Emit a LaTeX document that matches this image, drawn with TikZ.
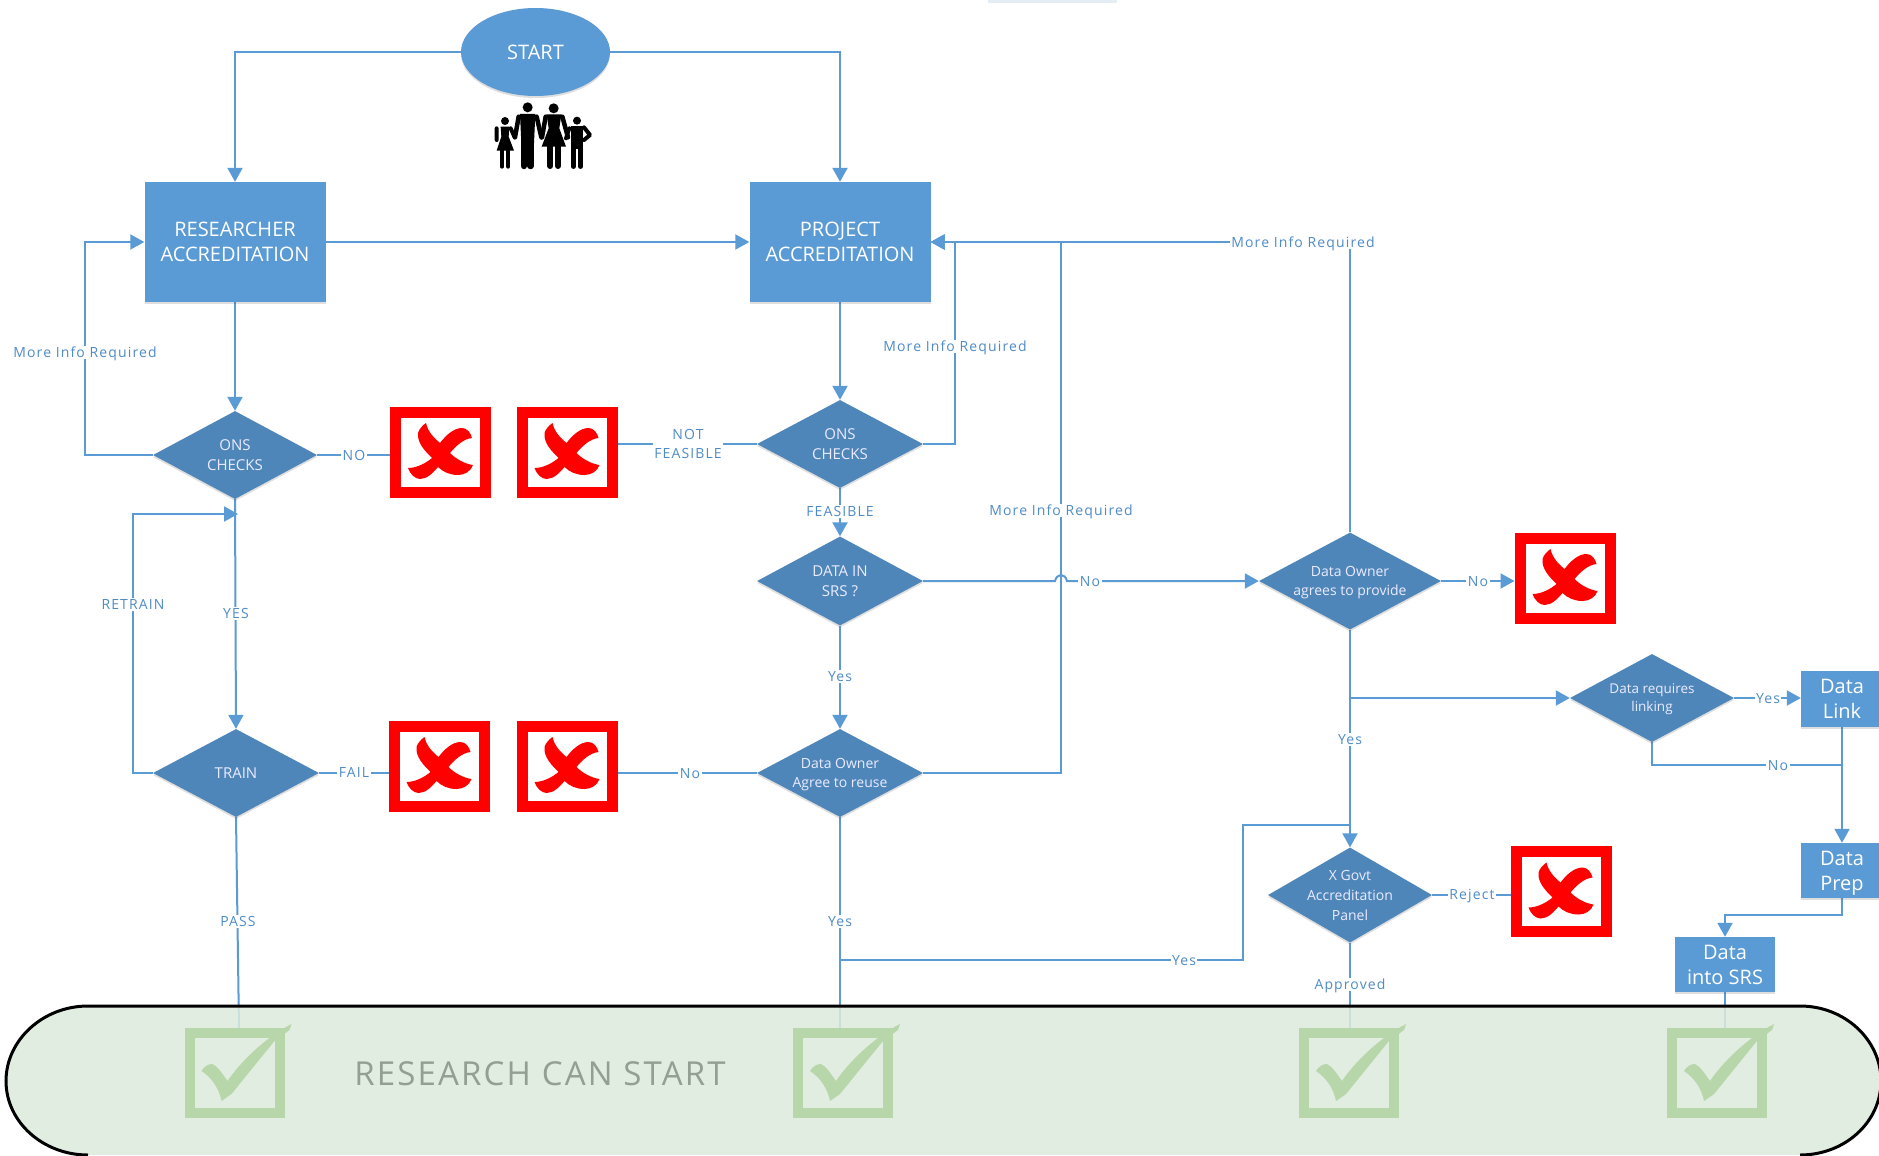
\documentclass[tikz,border=0pt]{standalone}
\usepackage{fontspec}
\setmainfont{Open Sans}
\newfontfamily\spacedfont[LetterSpace=8]{Open Sans}
\newfontfamily\bandfont[LetterSpace=6.5]{Open Sans}
\usetikzlibrary{shapes.geometric,arrows.meta,shadows}
\definecolor{boxblue}{HTML}{5B9BD5}
\definecolor{diablue}{HTML}{4F86BA}
\definecolor{linkblue}{HTML}{5B9BD5}
\definecolor{lblblue}{HTML}{4F8CC6}
\definecolor{tickgreen}{HTML}{B7D6AA}
\definecolor{bandgreen}{HTML}{DDEBDD}
\definecolor{bandtext}{HTML}{939F93}
\definecolor{topbar}{HTML}{E4ECF4}
\pgfdeclarelayer{connlayer}
\pgfdeclarelayer{bandlayer}
\pgfsetlayers{connlayer,bandlayer,main}
\tikzset{
  softshadow/.style={drop shadow={shadow xshift=0pt,shadow yshift=-2pt,opacity=.18,fill=black!70}},
  procbox/.style={rectangle,fill=boxblue,text=white,align=center,inner sep=0pt,text depth=0pt,softshadow,font=\fontsize{20}{25}\selectfont},
  decision/.style={diamond,aspect=1.87,fill=diablue,text=white!92!blue,align=center,inner sep=-25pt,text depth=0pt,softshadow,font=\fontsize{14}{19}\selectfont},
  startoval/.style={ellipse,fill=boxblue,text=white,inner sep=0pt,minimum width=149pt,minimum height=88pt,softshadow,font=\fontsize{20}{25}\selectfont},
  crossbox/.style={rectangle,draw=red,fill=white,line width=11pt,inner sep=0pt,minimum width=90pt,minimum height=80pt},
  tickbox/.style={rectangle,draw=tickgreen,line width=10pt,inner sep=0pt,minimum width=90pt,minimum height=80pt},
  conn/.style={draw=linkblue,line width=2pt},
  connarrow/.style={conn,-{Triangle[width=15pt,length=14pt]}},
  lbl/.style={fill=white,text=lblblue,inner sep=1.5pt,align=center,text depth=0pt,yshift=-.5pt,font=\spacedfont\fontsize{14}{19}\selectfont},
}
\newcommand\crossmark[3]{%
  \node[crossbox] (#1) at (#2,#3) {};
  \fill[red,shift={(#2-50.5,#3-45)}] (36,16) .. controls (38,25) and (44,31) .. (50,36) .. controls (56,28) and (64,21) .. (72,21) .. controls (77,21) and (81,26) .. (82,31) .. controls (73,32) and (66,39) .. (60,46) .. controls (66,52) and (75,57) .. (83,58) .. controls (81,64) and (75,68) .. (68,68) .. controls (60,68) and (53,65) .. (48,60) .. controls (43,66) and (37,72) .. (30,72) .. controls (25,72) and (20,67) .. (18,61) .. controls (27,61) and (36,56) .. (42,51) .. controls (35,44) and (27,36) .. (28,26) .. controls (29,22) and (33,18) .. (36,16) -- cycle;}
\newcommand\tickmark[3]{%
  \node[tickbox] (#1) at (#2,#3) {};
  \fill[tickgreen,shift={(#2-50,#3-45)}] (17,43) .. controls (20,38) and (24,36) .. (28,36) .. controls (33,38) and (38,46) .. (43,53) .. controls (55,35) and (80,10) .. (107,-4) -- (105,2) -- (90,13) .. controls (72,35) and (56,55) .. (47,66) -- (37,73) .. controls (35,62) and (28,50) .. (17,43) -- cycle;}
\begin{document}
\begin{tikzpicture}[x=1pt,y=-1pt]
\useasboundingbox (0,0) rectangle (1879,1156);

% shapes
\node[startoval] (start) at (535.5,52) {START};
\node[procbox,minimum width=181pt,minimum height=120pt] (res) at (235,242) {RESEARCHER\\ACCREDITATION};
\node[procbox,minimum width=181pt,minimum height=120pt] (proj) at (840,242) {PROJECT\\ACCREDITATION};
\node[decision,minimum width=164pt,minimum height=88pt,font=\fontsize{15}{20}\selectfont] (ons1) at (235,455) {ONS\\CHECKS};
\node[decision,minimum width=166pt,minimum height=88pt,font=\fontsize{15}{20}\selectfont] (ons2) at (840,444) {ONS\\CHECKS};
\node[decision,minimum width=166pt,minimum height=89pt,font=\fontsize{15}{20}\selectfont] (srs) at (840,581) {DATA IN\\SRS ?};
\node[decision,minimum width=166pt,minimum height=88pt] (reuse) at (840,773) {Data Owner\\Agree to reuse};
\node[decision,minimum width=166pt,minimum height=88pt,font=\fontsize{15}{20}\selectfont] (train) at (236,773) {TRAIN};
\node[decision,minimum width=182pt,minimum height=97pt] (own) at (1350,581) {Data Owner\\agrees to provide};
\node[decision,minimum width=164pt,minimum height=88pt,font=\fontsize{13.5}{18}\selectfont] (link) at (1652,698) {Data requires\\linking};
\node[decision,minimum width=164pt,minimum height=95pt,font=\fontsize{14}{20}\selectfont] (govt) at (1350,895) {X Govt\\Accreditation\\Panel};
\node[procbox,minimum width=82pt,minimum height=56pt] (dlink) at (1842,699) {Data\\Link};
\node[procbox,minimum width=82pt,minimum height=55pt] (dprep) at (1842,870.5) {Data\\Prep};
\node[procbox,minimum width=100pt,minimum height=55pt] (dsrs) at (1725,964.5) {Data\\into SRS};

\crossmark{x1}{440.5}{452}
\crossmark{x2}{567}{452}
\crossmark{x3}{439}{766}
\crossmark{x4}{567}{766}
\crossmark{x5}{1565}{578}
\crossmark{x6}{1561}{891.5}

\tickmark{t1}{234.5}{1073}
\tickmark{t2}{843}{1073}
\tickmark{t3}{1349}{1073}
\tickmark{t4}{1717}{1073}
\node[text=bandtext,inner sep=0pt,font=\bandfont\fontsize{33}{40}\selectfont] (band) at (540,1073.5) {RESEARCH CAN START};

% bends and free ends
\coordinate (cA) at (85,242);
\coordinate (cB) at (955,242);
\coordinate (cC) at (1061,242);
\coordinate (cR) at (133,514);
\coordinate (cRe) at (238,514);
\coordinate (e1) at (239,1029);
\coordinate (e2) at (840,1029);
\coordinate (e3) at (1350,1029);
\coordinate (e4) at (1725,1029);
\coordinate (hopa) at (1055,581);
\coordinate (hopb) at (1057,573);
\coordinate (hopc) at (1065,573);
\coordinate (hopd) at (1067,581);
\coordinate (br1) at (1350,698);
\coordinate (br2) at (1652,765);
\coordinate (br3) at (1842,765);
\coordinate (yb1) at (840,960);
\coordinate (yb2) at (1243,960);
\coordinate (yb3) at (1243,825);
\coordinate (yb4) at (1350,825);
\coordinate (pb1) at (1842,915);
\coordinate (pb2) at (1725,915);

\begin{pgfonlayer}{connlayer}
\fill[white] (0,0) rectangle (1879,1156);
\fill[topbar] (988,0) rectangle (1117,3);
\draw[connarrow] (start.west) -| (res.north);
\draw[connarrow] (start.east) -| (proj.north);
\draw[connarrow] (res.east) -- (proj.west);
\draw[connarrow] (res.south) -- (ons1.north);
\draw[connarrow] (ons1.west) -| (cA) -- (res.west);
\draw[conn] (ons1.east) -- (ons1.east -| x1.west);
\draw[connarrow] (ons1.south) -- (train.north);
\draw[connarrow] (train.west) -| (cR) -- (cRe);
\draw[conn] (train.east) -- (train.east -| x3.west);
\draw[conn] (train.south) -- (e1);
\draw[connarrow] (proj.south) -- (ons2.north);
\draw[connarrow] (ons2.east) -| (cB) -- (proj.east);
\draw[conn] (ons2.west) -- (ons2.west -| x2.east);
\draw[connarrow] (ons2.south) -- (srs.north);
\draw[connarrow] (srs.east) -- (hopa) .. controls (hopb) and (hopc) .. (hopd) -- (own.west);
\draw[connarrow] (srs.south) -- (reuse.north);
\draw[conn] (reuse.west) -- (reuse.west -| x4.east);
\draw[connarrow] (reuse.east) -| (cC) -- (proj.east);
\draw[conn] (reuse.south) -- (e2);
\draw[connarrow] (own.north) |- (proj.east);
\draw[connarrow] (own.east) -- (own.east -| x5.west);
\draw[connarrow] (own.south) -- (govt.north);
\draw[connarrow] (br1) -- (link.west);
\draw[connarrow] (link.east) -- (link.east -| dlink.west);
\draw[conn] (link.south) -- (br2) -- (br3);
\draw[connarrow] (dlink.south) -- (dprep.north);
\draw[connarrow] (dprep.south) -- (pb1) -- (pb2) -- (dsrs.north);
\draw[conn] (dsrs.south) -- (e4);
\draw[conn] (yb1) -- (yb2) -- (yb3) -- (yb4);
\draw[conn] (govt.east) -- (govt.east -| x6.west);
\draw[conn] (govt.south) -- (e3);
\end{pgfonlayer}

\begin{pgfonlayer}{bandlayer}
\fill[bandgreen,fill opacity=.85] (6,1081) .. controls (6,1040) and (43,1006) .. (88,1006) -- (1800,1006) .. controls (1845,1006) and (1881,1040) .. (1881,1081) .. controls (1881,1122) and (1845,1155) .. (1800,1155) -- (88,1155) .. controls (43,1155) and (6,1122) .. (6,1081) -- cycle;
\draw[black,line width=3pt] (88,1155) .. controls (43,1155) and (6,1122) .. (6,1081) .. controls (6,1040) and (43,1006) .. (88,1006) -- (1800,1006) .. controls (1845,1006) and (1881,1040) .. (1881,1081) .. controls (1881,1122) and (1845,1155) .. (1800,1155);
\end{pgfonlayer}

% labels
\node[lbl] (l1) at (85,352) {More Info Required};
\node[lbl] (l2) at (354,455) {NO};
\node[lbl] (l3) at (236,613) {YES};
\node[lbl] (l4) at (133,604) {RETRAIN};
\node[lbl] (l5) at (354,772) {FAIL};
\node[lbl] (l6) at (238,921) {PASS};
\node[lbl] (l7) at (955,346) {More Info Required};
\node[lbl] (l8) at (688,443) {NOT\\FEASIBLE};
\node[lbl] (l9) at (840,511) {FEASIBLE};
\node[lbl] (l10) at (1090,581) {No};
\node[lbl] (l11) at (840,676) {Yes};
\node[lbl] (l12) at (690,773) {No};
\node[lbl] (l13) at (1061,510) {More Info Required};
\node[lbl] (l14) at (1303,242) {More Info Required};
\node[lbl] (l15) at (1478,581) {No};
\node[lbl] (l16) at (1350,739) {Yes};
\node[lbl] (l17) at (1768,698) {Yes};
\node[lbl] (l18) at (1778,765) {No};
\node[lbl] (l19) at (840,921) {Yes};
\node[lbl] (l20) at (1184,960) {Yes};
\node[lbl] (l21) at (1472,894) {Reject};
\node[lbl] (l22) at (1350,984) {Approved};

% family
\begin{scope}[shift={(380,0)},scale=1/3,black,line cap=round,line join=round]
  \fill (443,322) circle (15);
  \fill (521,325) circle (15);
  \fill (375,363) circle (12);
  \fill (591,362) circle (12);
  % man
  \fill (420,342) -- (466,342) -- (462,430) -- (424,430) -- cycle;
  \draw[line width=6.5pt] (432,425) -- (432,498) (452,425) -- (452,498);
  \draw[line width=4.5pt] (416,350) -- (405,412) (470,350) -- (484,412);
  % woman
  \fill (500,343) -- (544,343) -- (538,385) -- (558,440) -- (485,440) -- (506,385) -- cycle;
  \draw[line width=6pt] (511,440) -- (511,498) (534,440) -- (534,498);
  \draw[line width=4.5pt] (497,350) -- (486,412) (547,350) -- (564,412);
  % girl
  \fill (362,380) -- (388,380) -- (386,410) -- (402,452) -- (350,452) -- (364,410) -- cycle;
  \draw[line width=4pt] (366,450) -- (366,500) (385,450) -- (385,500);
  \draw[line width=4pt] (350,385) -- (350,420) (392,385) -- (404,412);
  % boy
  \fill (572,378) -- (610,378) -- (610,448) -- (572,448) -- cycle;
  \draw[line width=4.5pt] (580,448) -- (580,500) (602,448) -- (602,500);
  \draw[line width=4pt] (568,385) -- (558,415) (612,382) -- (630,405) -- (612,420);
\end{scope}
\end{tikzpicture}
\end{document}
